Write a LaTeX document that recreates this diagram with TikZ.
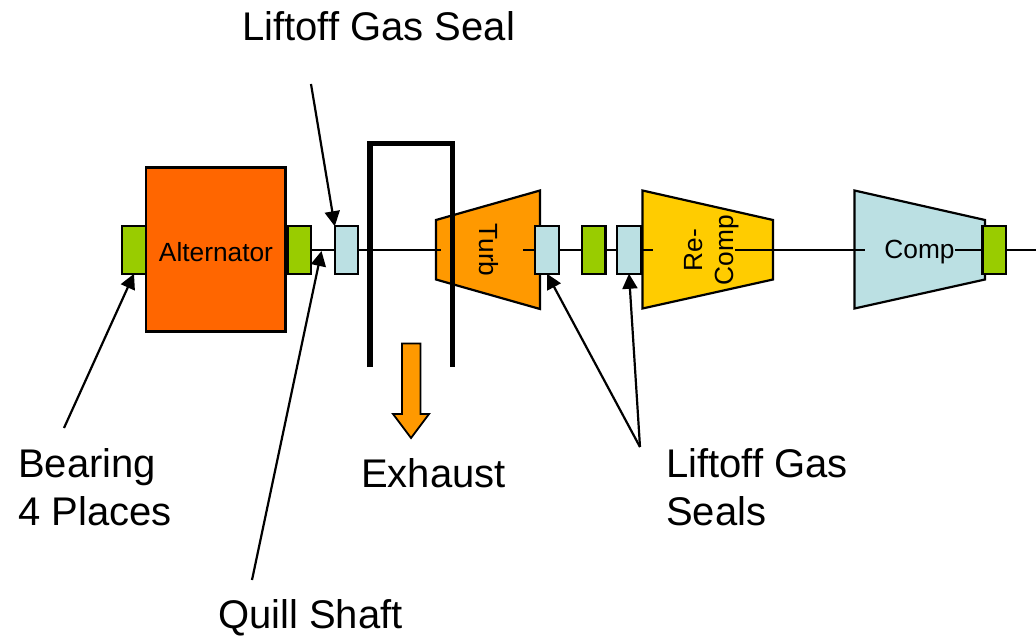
\documentclass[tikz,border=0pt]{standalone}
\usepackage{fontspec}
\setmainfont{Liberation Sans}
\usetikzlibrary{arrows.meta}
\definecolor{altc}{HTML}{FF6600}
\definecolor{grn}{HTML}{99CC00}
\definecolor{blu}{HTML}{BBE0E3}
\definecolor{org}{HTML}{FF9900}
\definecolor{yel}{HTML}{FFCC00}
\tikzset{
  box/.style={draw=black,line width=2.2pt,minimum width=23.5pt,minimum height=47.5pt,inner sep=0pt,outer sep=0pt},
  bearing/.style={box,fill=grn},
  sealbox/.style={box,fill=blu},
  shaft/.style={draw=black,line width=2.2pt},
  turbo/.style={draw=black,line width=2.2pt,line join=miter},
  small/.style={font=\fontsize{26.3pt}{31pt}\selectfont,inner sep=0pt,align=center},
  big/.style={font=\fontsize{40pt}{48pt}\selectfont,inner sep=0pt,align=left},
  pointer/.style={draw=black,line width=2.2pt,-{Triangle[length=15pt,width=15pt]},shorten >=0pt},
  wall/.style={draw=black,line width=5.5pt,line cap=butt,line join=miter},
}
\begin{document}
\begin{tikzpicture}[x=1pt,y=-1pt]
\useasboundingbox (0,0) rectangle (1036,636);
% free shaft ends
\coordinate (t1) at (441,250);
\coordinate (t2) at (523,250);
\coordinate (r1) at (653,250);
\coordinate (r2) at (735,250);
\coordinate (c1) at (865,250);
\coordinate (c2) at (955,250);
\coordinate (shaftend) at (1036,250);
% tips and tails of the pointers
\coordinate (gasTail) at (311,84);
\coordinate (brgTail) at (64,428);
\coordinate (quillTail) at (252,580);
\coordinate (quillTip) at (321.5,251);
\coordinate (sealsTail) at (640,447);
% exhaust duct
\coordinate (dl) at (370,367);
\coordinate (dtl) at (370,143.5);
\coordinate (dtr) at (452.5,143.5);
\coordinate (dr) at (452.5,367);
% turbomachinery
\draw[turbo,fill=org] (436,220) -- (540,190.5) -- (540,309) -- (436,279.5) -- cycle;
\draw[turbo,fill=yel] (642.5,190.5) -- (773,220) -- (773,279.5) -- (642.5,308.5) -- cycle;
\draw[turbo,fill=blu] (854.5,190.5) -- (985,220) -- (985,279.5) -- (854.5,308.5) -- cycle;
\node[small,rotate=-90] (turb) at (489,250) {Turb};
\node[small,rotate=90] (recomp) at (712,250) {Re-\\Comp};
\node[small] (comp) at (919.5,252) {Comp};
% alternator and boxes
\node[draw=black,line width=2.2pt,fill=altc,minimum width=139.5pt,minimum height=164pt,inner sep=0pt,outer sep=0pt] (alt) at (215.75,249.5) {};
\node[small] (alttext) at (216,252) {Alternator};
\node[bearing] (b1) at (134,250) {};
\node[bearing] (b2) at (299.25,250) {};
\node[sealbox] (s1) at (346.5,250) {};
\node[sealbox] (s2) at (547,250) {};
\node[bearing] (b3) at (593.75,250) {};
\node[sealbox] (s3) at (629,250) {};
\node[bearing] (b4) at (994.25,250) {};
% shaft
\draw[shaft] (b2.east) -- (s1.west);
\draw[shaft] (s1.east) -- (t1);
\draw[shaft] (t2) -- (s2.west);
\draw[shaft] (s2.east) -- (b3.west);
\draw[shaft] (b3.east) -- (s3.west);
\draw[shaft] (s3.east) -- (r1);
\draw[shaft] (r2) -- (c1);
\draw[shaft] (c2) -- (b4.west);
\draw[shaft] (b4.east) -- (shaftend);
% duct
\draw[wall] (dl) -- (dtl) -- (dtr) -- (dr);
% exhaust arrow
\draw[draw=black,line width=1.8pt,fill=org] (402,343.5) -- (420.5,343.5) -- (420.5,414) -- (429,414) -- (411,438) -- (393,414) -- (402,414) -- cycle;
% pointers
\draw[pointer] (gasTail) -- (s1.north west);
\draw[pointer] (brgTail) -- (b1.south);
\draw[pointer] (quillTail) -- (quillTip);
\draw[pointer] (sealsTail) -- (s2.south);
\draw[pointer] (sealsTail) -- (s3.south);
% labels
\node[big,anchor=base west] (l1) at (242,41) {Liftoff Gas Seal};
\node[big,anchor=base west] (l2) at (18,477) {Bearing};
\node[big,anchor=base west] (l2b) at (18,525) {4 Places};
\node[big,anchor=base west] (l3) at (361,487) {Exhaust};
\node[big,anchor=base west] (l4) at (666,477) {Liftoff Gas};
\node[big,anchor=base west] (l4b) at (666,525) {Seals};
\node[big,anchor=base west] (l5) at (218,628.5) {Quill Shaft};
\end{tikzpicture}
\end{document}
